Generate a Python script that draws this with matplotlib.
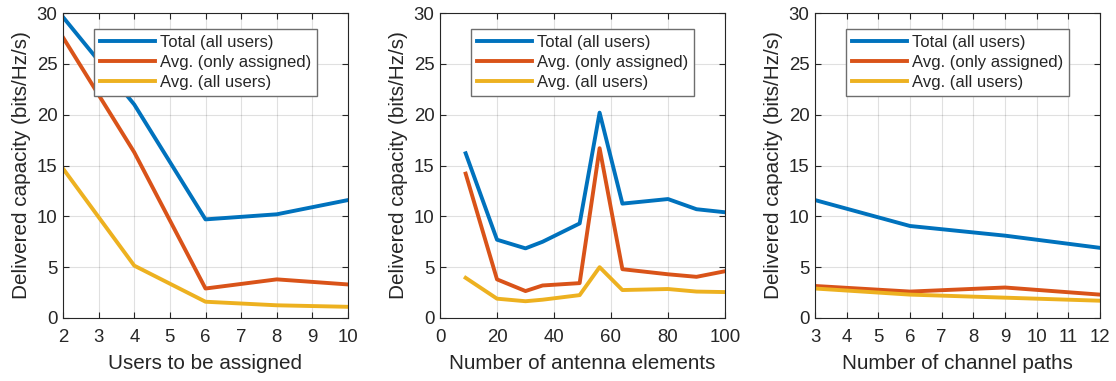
import matplotlib
matplotlib.use("Agg")
import matplotlib.pyplot as plt

plt.rcParams['font.family'] = ['Liberation Sans', 'DejaVu Sans']

# Series labels and colours
series_labels = ["Total (all users)", "Avg. (only assigned)", "Avg. (all users)"]
series_colors = ["#0072BD", "#D95319", "#EDB120"]

# Panel 1: users to be assigned
users = [2, 4, 6, 8, 10]
users_total = [29.6, 21.0, 9.7, 10.2, 11.6]
users_avg_assigned = [27.6, 16.3, 2.9, 3.8, 3.3]
users_avg_all = [14.7, 5.15, 1.6, 1.25, 1.1]

# Panel 2: number of antenna elements
antennas = [9, 20, 30, 36, 49, 56, 64, 80, 90, 100]
antennas_total = [16.2, 7.7, 6.85, 7.5, 9.3, 20.2, 11.25, 11.7, 10.7, 10.4]
antennas_avg_assigned = [14.2, 3.8, 2.65, 3.2, 3.43, 16.7, 4.8, 4.3, 4.05, 4.6]
antennas_avg_all = [3.95, 1.9, 1.65, 1.8, 2.25, 5.0, 2.75, 2.85, 2.6, 2.55]

# Panel 3: number of channel paths
paths = [3, 6, 9, 12]
paths_total = [11.6, 9.05, 8.1, 6.9]
paths_avg_assigned = [3.15, 2.6, 3.0, 2.3]
paths_avg_all = [2.9, 2.3, 2.0, 1.7]

panels = [
    dict(x=users, ys=[users_total, users_avg_assigned, users_avg_all],
         xlabel="Users to be assigned", xlim=(2, 10), xticks=list(range(2, 11))),
    dict(x=antennas, ys=[antennas_total, antennas_avg_assigned, antennas_avg_all],
         xlabel="Number of antenna elements", xlim=(0, 100), xticks=list(range(0, 101, 20))),
    dict(x=paths, ys=[paths_total, paths_avg_assigned, paths_avg_all],
         xlabel="Number of channel paths", xlim=(3, 12), xticks=list(range(3, 13))),
]

fig = plt.figure(figsize=(11.16, 3.81), dpi=100)
lefts = [63, 440, 815]
W, H = 1116, 381
text_color = "#262626"

for left, p in zip(lefts, panels):
    ax = fig.add_axes([left / W, 1 - 318 / H, 285 / W, 305 / H])
    for y, lab, col in zip(p["ys"], series_labels, series_colors):
        ax.plot(p["x"], y, color=col, lw=2.8, label=lab)
    ax.set_xlim(*p["xlim"])
    ax.set_ylim(0, 30)
    ax.set_xticks(p["xticks"])
    ax.set_yticks(range(0, 31, 5))
    ax.grid(True, color="#000000", alpha=0.12, lw=0.8)
    ax.set_axisbelow(True)
    ax.tick_params(direction="in", top=True, right=True, length=4, width=0.8,
                   colors=text_color, labelsize=13.4)
    ax.tick_params(axis="x", pad=8)
    ax.tick_params(axis="y", pad=4)
    for s in ax.spines.values():
        s.set_color(text_color)
        s.set_linewidth(0.8)
    ax.set_xlabel(p["xlabel"], fontsize=14.9, color=text_color, labelpad=6)
    ax.set_ylabel("Delivered capacity (bits/Hz/s)", fontsize=14.9, color=text_color, labelpad=4)
    leg = ax.legend(loc="upper center", bbox_to_anchor=(0.5, 0.948), fontsize=12,
                    handlelength=3.3, handletextpad=0.3, borderpad=0.35,
                    labelspacing=0.3, fancybox=False, framealpha=1, borderaxespad=0)
    leg.get_frame().set_edgecolor("#6e6e6e")
    leg.get_frame().set_linewidth(1.0)
    for t in leg.get_texts():
        t.set_color(text_color)

fig.savefig("out.png", dpi=100)
